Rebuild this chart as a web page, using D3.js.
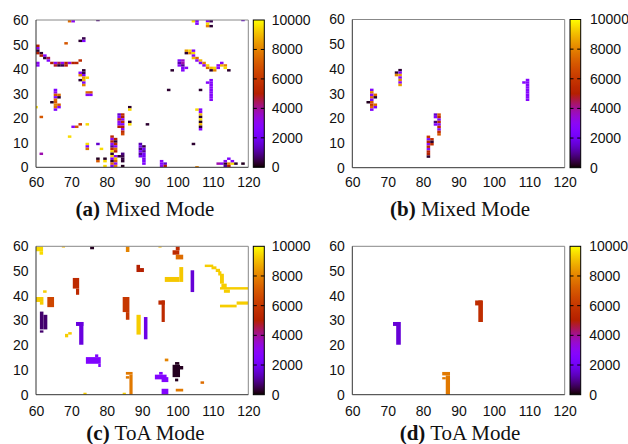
<!DOCTYPE html>
<html><head><meta charset="utf-8">
<script src="https://cdn.jsdelivr.net/npm/d3@7"></script>
<style>body{margin:0;background:#fff}svg{display:block}</style>
</head><body>
<svg id="c" width="628" height="444"></svg>
<script>
const xTicks = [60,70,80,90,100,110,120];
const yTicks = [0,10,20,30,40,50,60];
const cbTicks = [0,2000,4000,6000,8000,10000];
const captionLetters = ['(a)','(b)','(c)','(d)'];
const captionModes = ['Mixed Mode','Mixed Mode','ToA Mode','ToA Mode'];

// [x, y, value] cells (1x1)
const cellsA = [
 [69,59,7500],[70,59,3000],[77,59.5,800],
 [104,59,9500],[105,59,2600],[105,58,2600],
 [108,59,2500],[109,59,500],[108,58,9500],[108,57,8000],[109,57,300],[118,59.5,1500],
 [68,50,7000],
 [72,51,300],[73,51,2500],[73,52,500],
 [60,49,5000],[60,48,3000],[60,47,300],[60,46,5000],[61,46,300],[61,45,5000],[62,45,2500],[62,44,300],[63,44,4500],[63,43,2500],
 [64,42,5000],[65,42,3000],[66,42,4500],[67,42,3000],[68,42,5000],[69,42,3200],[70,42,5000],[71,42,5200],
 [65,41,4800],[66,41,300],[67,41,500],[68,41,5000],[72,43,5500],
 [60,42,3000],[60,41,2800],
 [73,39,300],[72,38,2800],[73,38,500],[72,37,8000],[73,37,2500],[73,36,8500],[74,36,9500],[72,35,300],[73,35,9000],[73,34,2500],[73,33,8000],
 [74,30,7500],[75,30,7000],[74,29,3000],[75,29,2500],
 [65,31,2500],[65,30,3000],[65,29,7000],[66,29,7500],[65,28,2500],[66,28,300],[65,27,7500],[65,26,7000],[64,26,200],[65,25,8000],[66,25,7000],[65,24,7500],[66,24,2800],[65,23,2500],
 [59.5,24,9500],[61,20,7000],
 [70,16,2800],[71,16,7000],[72,17,6000],[74,17,9500],
 [69,12,9500],
 [74,9,9500],[74,8,2500],[74,7,7500],
 [77,9,1500],[78,7,9500],
 [77,3,200],[77,2,7000],[79,3,200],[79,2,9500],[79,0,9500],
 [81,12,5500],[81,11,3000],[81,10,5000],[81,9,3000],[81,8,1000],[81,7,5500],[81,6,9500],[81,5,300],[81,4,9500],[81,3,2500],[81,2,300],[81,1,7500],[81,0,2500],
 [82,11,5000],[82,10,300],[82,9,5500],[82,8,2500],[82,7,7500],[82,6,5000],[82,4,3000],[82,3,9000],[82,2,7000],[82,1,3000],[82,0,8000],
 [83,4,300],[84,5,800],[84,4,500],[84,3,400],[84,2,300],[84,0,200],
 [83,21,1500],[83,20,2500],[83,19,5000],[83,18,3000],[83,17,2500],[83,16,5000],
 [84,21,5500],[84,20,5000],[84,19,2800],[84,18,5500],[84,17,2500],[84,16,5000],[84,15,3000],[84,14,5500],[84,13,6500],
 [86,24,300],[86,23,9500],[86,18,300],[86,17,9500],[91,17,300],
 [89,9,1200],[89,8,2000],[89,7,800],[89,6,2200],[89,5,1000],[89,4,2000],
 [90,8,400],[90,7,2000],[90,6,1000],[90,5,2200],[90,4,2000],[90,3,2200],[90,2,2300],[90,1,2400],
 [95,2,2800],[95,1,2500],[96,1,1500],[96,0,5000],[95,0,3000],
 [97,31,300],[106,31,300],
 [108,34,2700],[109,35,2700],[109,34,2700],[109,33,2700],[109,32,2700],[109,31,2700],[109,30,2700],[109,29,2700],[109,28,2700],[109,27,2700],
 [105,23,9500],[106,23,2500],[106,22,2800],[106,21,9000],[106,20,300],[106,19,9500],[106,18,200],[106,17,9000],[106,16,300],[106,15,2500],
 [104,9,300],[105,-0.5,8000],
 [111,1,3800],[112,1,3000],[113,1,300],[114,1,8000],[115,1,9500],[116,1,300],[118,1,200],[114,3,2500],[113,2,2800],[115,2,2600],[113,0,1000],[114,0,5000],
 [102,47,8500],[103,47,9500],[104,47,2500],[102,46,300],[103,46,8000],[104,46,9500],[104,45,2800],[104,44,9000],[105,44,7500],[105,43,3000],[106,43,9000],[106,42,2500],[107,42,8000],[107,41,3000],[108,41,9500],[108,40,7500],[109,40,9000],[109,39,300],[110,39,8000],[110,40,9500],[111,40,2800],[111,41,3000],[112,41,9000],[112,42,2800],[113,41,8000],[113,40,9500],[114,39,300],
 [100,43,2500],[101,43,3500],[100,42,1200],[101,42,3800],[100,41,2800],[101,41,1000],[101,40,2500],[102,40,2800],[101,39,2600],[98,39,300],
 [61,5,3800]
];

const cellsB = [
 [65,31,2600],[65,30,8000],[65,29,2800],[66,29,7500],[65,28,7500],[66,28,300],[65,27,2500],[65,26,7000],[64,26,200],[65,25,6000],[66,25,7500],[65,24,7500],[66,24,2500],[65,23,2600],
 [73,39,300],[72,38,300],[73,38,2500],[72,37,8000],[73,37,8500],[73,36,2800],[73,35,8000],[73,34,3000],[73,33,8500],
 [81,12,6000],[81,11,2500],[81,10,5000],[81,9,3000],[81,8,5500],[81,7,2800],[81,6,5000],[81,5,5000],[81,4,300],[82,11,5500],[82,10,300],[82,9,5500],
 [83,21,1500],[83,20,2500],[83,18,800],[83,17,2500],[84,21,7000],[84,20,5500],[84,19,2800],[84,18,5500],[84,17,3000],[84,16,5500],[84,15,2800],[84,14,5500],[84,13,7000],
 [108,34,2700],[109,35,2700],[109,34,2700],[109,33,2700],[109,32,2700],[109,31,2700],[109,30,2700],[109,29,2700],[109,28,2700],[109,27,2700]
];

// [x0, x1, y0, y1, value] blocks
const rectsC = [
 [60,62,58,60,9500],[61,62,56.6,58,9500],
 [67.3,68.2,59.5,60,9000],[75.3,76.4,58.8,60,200],[85.4,86.4,57.7,60,8000],[94.6,95.5,59.5,60,9000],
 [99.5,100.6,58.4,60,5500],[98.6,100.5,56.6,58.4,5500],[99.5,101.6,54.7,56.6,7500],
 [88.4,89.4,49.6,52.5,5000],[89.4,90.5,49.6,51.2,5000],
 [100.5,101.6,45.6,51.6,9200],[96.4,100.5,45.6,47.6,9200],
 [103.7,104.7,41.5,50.3,1600],
 [107.7,110.1,51.6,52.6,9300],[109.6,111.0,50.7,51.9,9300],[110.8,112.0,49.6,50.9,9300],[111.5,112.4,48.2,49.9,9300],
 [112.0,113.1,44.9,48.9,9300],[112.4,113.9,42.9,44.9,9300],[112.0,120,42.5,43.5,9300],[113.1,114.8,41.2,42.5,9300],
 [112,116.7,35.3,36.4,9300],[116.7,120,36.4,37.7,9300],
 [62,63,41.2,42.2,9300],
 [60,62.1,37.5,39.5,9300],[61.1,62.1,36.4,37.5,9300],
 [63.2,65.1,35.4,39.5,6500],
 [70.4,72.2,42.9,47.2,5500],[71.3,72.2,40.4,42.9,5500],
 [84.5,86.4,33.4,39.5,6000],[85.4,86.4,30.3,33.4,6000],
 [94.6,96.4,36.4,38.1,5500],[95.5,96.4,29.4,38.1,5500],
 [88.4,89.6,24.3,32.3,9300],
 [90.5,91.5,22.4,31.4,1800],
 [61.1,62.1,26.4,33.6,700],[62.1,63.2,26.4,32.3,700],[61.1,62.1,25.1,26.0,700],
 [69.1,70.1,24.3,25.3,9300],[68.2,69.1,23.2,24.6,9300],
 [71.3,73.4,27.8,29.4,1700],[72.2,73.4,20.2,29.4,1700],
 [74.1,78.3,12.5,15.2,2500],[76.7,77.6,15.2,16.3,2500],[77.6,78.3,11.2,12.5,2500],
 [85.4,87.3,8.1,9.2,7800],[85.4,86.4,6.5,7.5,7800],[86.4,87.3,0,8.1,7800],
 [73.4,74.3,0,0.8,9300],[84.5,85.4,0,0.8,9300],
 [94.8,95.8,8.1,9.2,2600],[93.6,96.9,6.2,8.1,2600],[95.5,97.4,5.1,7.1,2600],
 [95.5,97.4,0,2.4,2600],
 [99.3,100.5,12.1,13.2,200],[98.6,100.7,7.1,12.1,200],[100.7,101.6,10.2,11.6,200],
 [99.3,100.2,5.4,6.5,200],
 [96.4,97.4,13.5,14.6,8000],
 [99.5,101.6,1.3,2.4,7800],
 [106.5,107.5,4.4,5.4,7500]
];

const rectsD = [
 [71.5,73.5,27.8,29.4,1600],[72.4,73.7,20.2,29.4,1600],
 [94.7,96.7,36.1,38.1,5600],[95.6,96.9,29.4,38.1,5600],
 [85.4,87.6,7.8,9.2,7800],[85.4,86.4,6.2,7.1,7800],[86.4,87.6,0,7.8,7800]
];

// gnuplot default palette (rgbformulae 7,5,15)
function gnuPal(t){
  t = Math.max(0, Math.min(1, t));
  const r = Math.sqrt(t), g = t*t*t, b = Math.max(0, Math.sin(2*Math.PI*t));
  return d3.rgb(255*r, 255*g, 255*b).formatHex();
}
const color = d3.scaleSequential([0,10000], gnuPal);

const svg = d3.select('#c');
const defs = svg.append('defs');
const grad = defs.append('linearGradient').attr('id','cbgrad')
  .attr('x1',0).attr('y1',1).attr('x2',0).attr('y2',0);
d3.range(0,101).forEach(i => grad.append('stop').attr('offset', i/100).attr('stop-color', color(i*100)));

const panels = [
 {data: cellsA, kind:'cell', L:36, R:248.3, T:20, B:167.3, cbL:253.3, cbR:264.3, cbPad:7.4, xPad:9.8, capX:145, capY:215.5},
 {data: cellsB, kind:'cell', L:352.3, R:564.7, T:19.5, B:167.7, cbL:570, cbR:580.7, cbPad:9.3, xPad:9.4, capX:460, capY:215.5},
 {data: rectsC, kind:'rect', L:36, R:248.3, T:246.3, B:394.7, cbL:253.3, cbR:264.3, cbPad:7.4, xPad:11.5, capX:145.5, capY:440},
 {data: rectsD, kind:'rect', L:352.3, R:564.7, T:246.3, B:394.7, cbL:570, cbR:580.7, cbPad:8.5, xPad:11, capX:460, capY:440}
];

const tickFont = 'Liberation Sans, Arial, Helvetica, sans-serif';

panels.forEach((p, i) => {
  const xs = d3.scaleLinear([60,120],[p.L,p.R]);
  const ys = d3.scaleLinear([0,60],[p.B,p.T]);
  const clipId = 'clip' + i;
  defs.append('clipPath').attr('id', clipId).append('rect')
    .attr('x', p.L).attr('y', p.T).attr('width', p.R-p.L).attr('height', p.B-p.T);
  const g = svg.append('g');
  const plot = g.append('g').attr('clip-path', `url(#${clipId})`);
  if (p.kind === 'cell') {
    plot.selectAll('rect').data(p.data).join('rect')
      .attr('x', d => xs(d[0])).attr('width', d => xs(d[0]+1)-xs(d[0]))
      .attr('y', d => ys(d[1]+1)).attr('height', d => ys(d[1])-ys(d[1]+1))
      .attr('fill', d => color(d[2]));
  } else {
    plot.selectAll('rect').data(p.data).join('rect')
      .attr('x', d => xs(d[0])).attr('width', d => xs(d[1])-xs(d[0]))
      .attr('y', d => ys(d[3])).attr('height', d => ys(d[2])-ys(d[3]))
      .attr('fill', d => color(d[4]));
  }
  // border
  g.append('line').attr('x1',p.L).attr('x2',p.R).attr('y1',p.T).attr('y2',p.T).attr('stroke','#888').attr('stroke-width',1);
  g.append('line').attr('x1',p.R).attr('x2',p.R).attr('y1',p.T).attr('y2',p.B).attr('stroke','#888').attr('stroke-width',1);
  g.append('line').attr('x1',p.L).attr('x2',p.L).attr('y1',p.T).attr('y2',p.B).attr('stroke','#333').attr('stroke-width',1);
  g.append('line').attr('x1',p.L).attr('x2',p.R).attr('y1',p.B).attr('y2',p.B).attr('stroke','#333').attr('stroke-width',1);

  // axes
  const ax = g.append('g').attr('transform', `translate(0,${p.B})`)
    .call(d3.axisBottom(xs).tickValues(xTicks).tickSize(0).tickPadding(p.xPad).tickFormat(d3.format('d')));
  const ay = g.append('g').attr('transform', `translate(${p.L},0)`)
    .call(d3.axisLeft(ys).tickValues(yTicks).tickSize(0).tickPadding(7.5).tickFormat(d3.format('d')));
  [ax, ay].forEach(a => {
    a.select('.domain').remove();
    a.attr('font-family', tickFont).attr('font-size', 14);
    a.selectAll('text').attr('fill', '#111');
  });

  // colorbar
  const cs = d3.scaleLinear([0,10000],[p.B,p.T]);
  g.append('rect').attr('x', p.cbL).attr('y', p.T).attr('width', p.cbR-p.cbL).attr('height', p.B-p.T)
    .attr('fill', 'url(#cbgrad)').attr('stroke', '#000').attr('stroke-width', 1);
  g.selectAll('.cbt').data(cbTicks.slice(1,-1)).join(enter => {
    const t = enter.append('g').attr('class','cbt');
    t.append('line').attr('x1', p.cbL).attr('x2', p.cbL+3.5).attr('y1', d => cs(d)).attr('y2', d => cs(d)).attr('stroke','#000');
    t.append('line').attr('x1', p.cbR-3.5).attr('x2', p.cbR).attr('y1', d => cs(d)).attr('y2', d => cs(d)).attr('stroke','#000');
    return t;
  });
  const ac = g.append('g').attr('transform', `translate(${p.cbR},0)`)
    .call(d3.axisRight(cs).tickValues(cbTicks).tickSize(0).tickPadding(p.cbPad).tickFormat(d3.format('d')));
  ac.select('.domain').remove();
  ac.attr('font-family', tickFont).attr('font-size', 14);
  ac.selectAll('text').attr('fill', '#111');

  // caption
  const cap = svg.append('text').attr('x', p.capX).attr('y', p.capY).attr('text-anchor','middle')
    .attr('font-family', 'Liberation Serif, Times New Roman, serif').attr('font-size', 21).attr('fill','#111');
  cap.append('tspan').attr('font-weight','bold').text(captionLetters[i]);
  cap.append('tspan').text(' ' + captionModes[i]);
});
</script>
</body></html>
